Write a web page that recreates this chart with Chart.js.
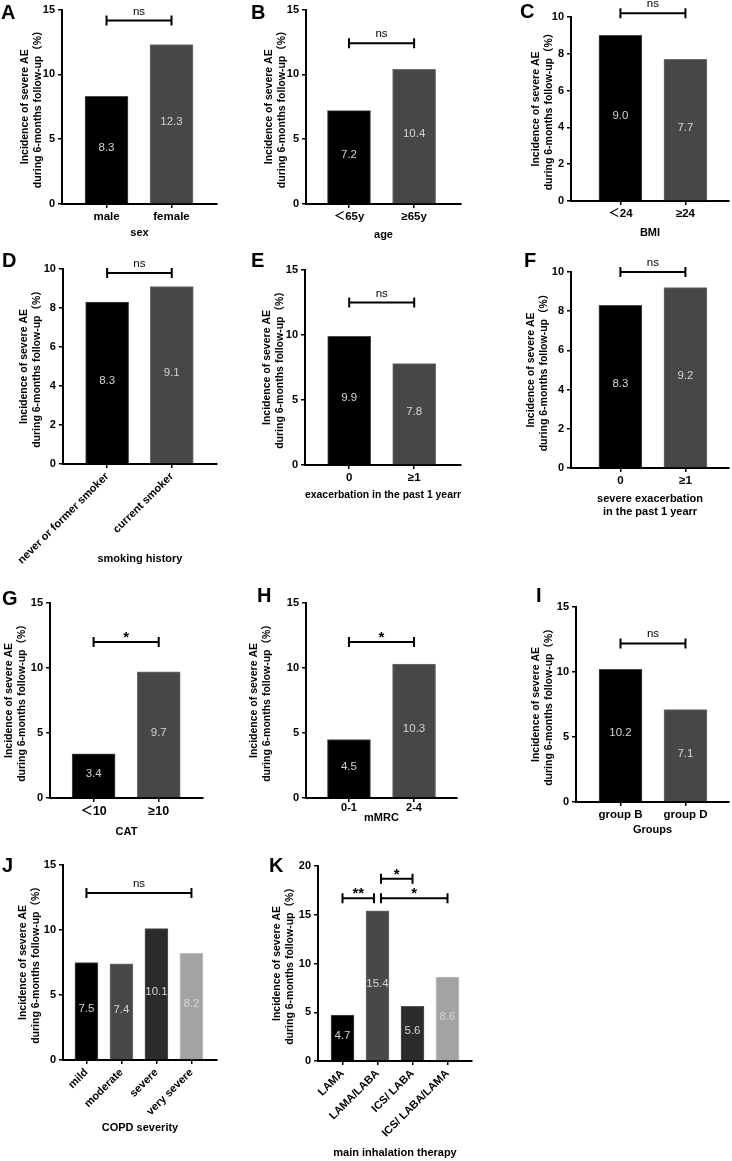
<!DOCTYPE html>
<html><head><meta charset="utf-8">
<script src="https://cdn.jsdelivr.net/npm/chart.js@4.4.1/dist/chart.umd.min.js"></script>
<style>
body{margin:0;background:#fff;}
#wrap{position:relative;width:732px;height:1161px;overflow:hidden;background:#fff;}
canvas{position:absolute;}
.lt{position:absolute;font:bold 20px 'Liberation Sans',Arial,sans-serif;color:#000;line-height:1;}
</style></head><body><div id="wrap"></div>
<script>
// ---------- DATA ----------
const yTitle=['Incidence of severe AE','during 6-months follow-up（%）'];

const catsA=['male','female'];            const valsA=[8.3,12.3];  const yTicksA=[0,5,10,15]; const sigA=[{from:0,to:1,y:14.15,label:'ns'}]; const xTitleA='sex';
const catsB=['＜65y','≥65y'];             const valsB=[7.2,10.4];  const yTicksB=[0,5,10,15]; const sigB=[{from:0,to:1,y:12.4,label:'ns'}];  const xTitleB='age';
const catsC=['＜24','≥24'];               const valsC=[9.0,7.7];   const yTicksC=[0,2,4,6,8,10]; const sigC=[{from:0,to:1,y:10.2,label:'ns'}]; const xTitleC='BMI';
const catsD=['never or former smoker','current smoker']; const valsD=[8.3,9.1]; const yTicksD=[0,2,4,6,8,10]; const sigD=[{from:0,to:1,y:9.8,label:'ns'}]; const xTitleD='smoking history';
const catsE=['0','≥1'];                   const valsE=[9.9,7.8];   const yTicksE=[0,5,10,15]; const sigE=[{from:0,to:1,y:12.5,label:'ns'}];  const xTitleE='exacerbation in the past 1 yearr';
const catsF=['0','≥1'];                   const valsF=[8.3,9.2];   const yTicksF=[0,2,4,6,8,10]; const sigF=[{from:0,to:1,y:10.0,label:'ns'}]; const xTitleF=['severe exacerbation','in the past 1 yearr'];
const catsG=['＜10','≥10'];               const valsG=[3.4,9.7];   const yTicksG=[0,5,10,15]; const sigG=[{from:0,to:1,y:12.0,label:'*'}];   const xTitleG='CAT';
const catsH=['0-1','2-4'];                const valsH=[4.5,10.3];  const yTicksH=[0,5,10,15]; const sigH=[{from:0,to:1,y:12.0,label:'*'}];   const xTitleH='mMRC';
const catsI=['group B','group D'];        const valsI=[10.2,7.1];  const yTicksI=[0,5,10,15]; const sigI=[{from:0,to:1,y:12.2,label:'ns'}];  const xTitleI='Groups';
const catsJ=['mild','moderate','severe','very severe']; const valsJ=[7.5,7.4,10.1,8.2]; const yTicksJ=[0,5,10,15]; const sigJ=[{from:0,to:3,y:12.85,label:'ns'}]; const xTitleJ='COPD severity';
const catsK=['LAMA','LAMA/LABA','ICS/ LABA','ICS/ LABA/LAMA']; const valsK=[4.7,15.4,5.6,8.6]; const yTicksK=[0,5,10,15,20];
const sigK=[{from:0,to:0.9,y:16.7,label:'**'},{from:1.1,to:2,y:18.7,label:'*'},{from:1.1,to:3,y:16.7,label:'*'}]; const xTitleK='main inhalation therapy';

// ---------- STYLE ----------
const FONT="'Liberation Sans', Arial, 'Noto Sans CJK SC', sans-serif";
Chart.defaults.font.family=FONT;
Chart.defaults.color='#000';
const LH_Y=13, LH_X=13;
const C2=['#000000','#474747'], B2=['#4a4a4a','#6e6e6e'];
const C4=['#000000','#484848','#2b2b2b','#a3a3a3'], B4=['#4a4a4a','#6e6e6e','#555555','#bdbdbd'];
const wrap=document.getElementById('wrap');

const valueLabels={id:'valueLabels',afterDatasetsDraw(chart){
  const ctx=chart.ctx, meta=chart.getDatasetMeta(0), ds=chart.data.datasets[0];
  ctx.save();ctx.fillStyle='#d4d4d4';ctx.font='11.5px '+FONT;ctx.textAlign='center';ctx.textBaseline='middle';
  meta.data.forEach((el,i)=>{ctx.fillText(ds.data[i].y.toFixed(1),el.x,(el.y+el.base)/2-2);});
  ctx.restore();
}};
const brackets={id:'brackets',afterDraw(chart,args,opts){
  const xs=chart.scales.x, ys=chart.scales.y, ctx=chart.ctx;
  ctx.save();ctx.strokeStyle='#000';ctx.fillStyle='#000';ctx.lineWidth=2;
  (opts.items||[]).forEach(b=>{
    const x1=xs.getPixelForValue(b.from), x2=xs.getPixelForValue(b.to), y=ys.getPixelForValue(b.y);
    ctx.beginPath();ctx.moveTo(x1,y);ctx.lineTo(x2,y);
    ctx.moveTo(x1,y-5);ctx.lineTo(x1,y+5);ctx.moveTo(x2,y-5);ctx.lineTo(x2,y+5);ctx.stroke();
    const star=b.label.indexOf('*')>=0;
    ctx.font=(star?'bold 15px ':'11.5px ')+FONT;ctx.textAlign='center';ctx.textBaseline='alphabetic';
    ctx.fillText(b.label,(x1+x2)/2,star?y:y-6);
  });
  ctx.restore();
}};

function axisGrid(){return {display:true,drawOnChartArea:false,drawTicks:true,tickLength:4,color:'#000',lineWidth:1.5,offset:false};}

function makePanel(p){
  const g=p.geo;
  const cv=document.createElement('canvas');
  cv.width=g.cw;cv.height=g.ch;
  cv.style.left=g.cx+'px';cv.style.top=g.cy+'px';cv.style.width=g.cw+'px';cv.style.height=g.ch+'px';
  wrap.appendChild(cv);
  const yW=g.axisX-g.cx;
  const xH=g.titleLast+LH_X/2-g.zeroY;
  const padBottom=Math.max(0,g.cy+g.ch-(g.zeroY+xH));
  const yt=p.yTicks;
  new Chart(cv,{type:'bar',
    data:{datasets:[{data:p.cats.map((c,i)=>({x:i,y:p.vals[i]})),backgroundColor:p.colors,borderColor:p.borders,borderWidth:1,barThickness:p.barW,borderSkipped:'bottom'}]},
    options:{responsive:false,animation:false,devicePixelRatio:1,
      layout:{padding:{left:0,top:g.topY-g.cy,right:g.cx+g.cw-g.endX,bottom:padBottom}},
      plugins:{legend:{display:false},tooltip:{enabled:false},brackets:{items:p.sig}},
      scales:{
        x:{type:'linear',min:p.xmin,max:p.xmax,offset:false,bounds:'data',
          afterBuildTicks:s=>{s.ticks=p.cats.map((c,i)=>({value:i}));},
          afterFit:s=>{s.height=xH;},
          ticks:{callback:v=>p.cats[v],autoSkip:false,maxRotation:p.rot,minRotation:p.rot,padding:(p.tickPad!==undefined?p.tickPad:2),font:{weight:'bold',size:p.tickSize},color:'#000'},
          grid:axisGrid(),
          border:{display:true,color:'#000',width:2},
          title:{display:true,text:p.xTitle,font:{weight:'bold',size:11,lineHeight:LH_X/11},padding:{top:0,bottom:0},color:'#000'}
        },
        y:{min:yt[0],max:yt[yt.length-1],
          afterBuildTicks:s=>{s.ticks=yt.map(v=>({value:v}));},
          afterFit:s=>{s.width=yW;},
          ticks:{font:{weight:'bold',size:11},padding:3,color:'#000'},
          grid:axisGrid(),
          border:{display:true,color:'#000',width:2},
          title:{display:true,text:yTitle,font:{weight:'bold',size:10.5,lineHeight:LH_Y/10.5},padding:{top:g.yt1-LH_Y/2-g.cx,bottom:0},color:'#000'}
        }
      }
    },
    plugins:[valueLabels,brackets]
  });
  const d=document.createElement('div');d.className='lt';d.textContent=p.letter;
  d.style.left=p.lx+'px';d.style.top=p.ly+'px';wrap.appendChild(d);
}

const panels=[
 {letter:'A',lx:1,ly:2,cats:catsA,vals:valsA,yTicks:yTicksA,sig:sigA,xTitle:xTitleA,colors:C2,borders:B2,barW:43,rot:0,tickSize:11.5,xmin:-0.685,xmax:1.70,
  geo:{cx:0,cy:0,cw:244,ch:245,axisX:62,topY:8,zeroY:204,endX:217,titleLast:233,yt1:25}},
 {letter:'B',lx:251,ly:2,cats:catsB,vals:valsB,yTicks:yTicksB,sig:sigB,xTitle:xTitleB,colors:C2,borders:B2,barW:43,rot:0,tickSize:11.5,xmin:-0.66,xmax:1.72,
  geo:{cx:244,cy:0,cw:244,ch:245,axisX:306,topY:9,zeroY:204,endX:461,titleLast:235,yt1:269}},
 {letter:'C',lx:520,ly:1,cats:catsC,vals:valsC,yTicks:yTicksC,sig:sigC,xTitle:xTitleC,colors:C2,borders:B2,barW:43,rot:0,tickSize:11.5,xmin:-0.76,xmax:1.67,
  geo:{cx:488,cy:0,cw:244,ch:245,axisX:571,topY:17,zeroY:201,endX:729,titleLast:233,yt1:536}},
 {letter:'D',lx:2,ly:250,cats:catsD,vals:valsD,yTicks:yTicksD,sig:sigD,xTitle:xTitleD,colors:C2,borders:B2,barW:43,rot:45,tickSize:11,xmin:-0.685,xmax:1.70,
  geo:{cx:0,cy:245,cw:244,ch:330,axisX:62,topY:269,zeroY:464,endX:217,titleLast:559,yt1:23}},
 {letter:'E',lx:251,ly:250,cats:catsE,vals:valsE,yTicks:yTicksE,sig:sigE,xTitle:xTitleE,colors:C2,borders:B2,barW:43,rot:0,tickSize:11.5,xmin:-0.68,xmax:1.72,
  geo:{cx:244,cy:245,cw:244,ch:330,axisX:305,topY:270,zeroY:465,endX:461,titleLast:495,yt1:267}},
 {letter:'F',lx:524,ly:250,cats:catsF,vals:valsF,yTicks:yTicksF,sig:sigF,xTitle:xTitleF,colors:C2,borders:B2,barW:43,rot:0,tickSize:11.5,xmin:-0.76,xmax:1.67,
  geo:{cx:488,cy:245,cw:244,ch:330,axisX:571,topY:272,zeroY:468,endX:729,titleLast:512,yt1:531}},
 {letter:'G',lx:2,ly:588,cats:catsG,vals:valsG,yTicks:yTicksG,sig:sigG,xTitle:xTitleG,colors:C2,borders:B2,barW:43,rot:0,tickSize:12.5,xmin:-0.67,xmax:1.68,
  geo:{cx:0,cy:580,cw:244,ch:265,axisX:50,topY:603,zeroY:798,endX:203,titleLast:832,yt1:9}},
 {letter:'H',lx:257,ly:585,cats:catsH,vals:valsH,yTicks:yTicksH,sig:sigH,xTitle:xTitleH,colors:C2,borders:B2,barW:43,rot:0,tickSize:11,tickPad:-1,xmin:-0.66,xmax:1.66,
  geo:{cx:244,cy:580,cw:244,ch:265,axisX:306,topY:603,zeroY:798,endX:457,titleLast:818,yt1:254}},
 {letter:'I',lx:536,ly:585,cats:catsI,vals:valsI,yTicks:yTicksI,sig:sigI,xTitle:xTitleI,colors:C2,borders:B2,barW:43,rot:0,tickSize:11.5,xmin:-0.685,xmax:1.67,
  geo:{cx:488,cy:580,cw:244,ch:265,axisX:576,topY:607,zeroY:802,endX:729,titleLast:830,yt1:536}},
 {letter:'J',lx:2,ly:855,cats:catsJ,vals:valsJ,yTicks:yTicksJ,sig:sigJ,xTitle:xTitleJ,colors:C4,borders:B4,barW:23,rot:45,tickSize:11,xmin:-0.67,xmax:3.73,
  geo:{cx:0,cy:845,cw:244,ch:316,axisX:63,topY:865,zeroY:1060,endX:217,titleLast:1128,yt1:23}},
 {letter:'K',lx:269,ly:855,cats:catsK,vals:valsK,yTicks:yTicksK,sig:sigK,xTitle:xTitleK,colors:C4,borders:B4,barW:23,rot:45,tickSize:11,xmin:-0.70,xmax:3.70,
  geo:{cx:244,cy:845,cw:244,ch:316,axisX:318,topY:866,zeroY:1061,endX:472,titleLast:1153,yt1:277}}
];
panels.forEach(makePanel);
</script></body></html>
